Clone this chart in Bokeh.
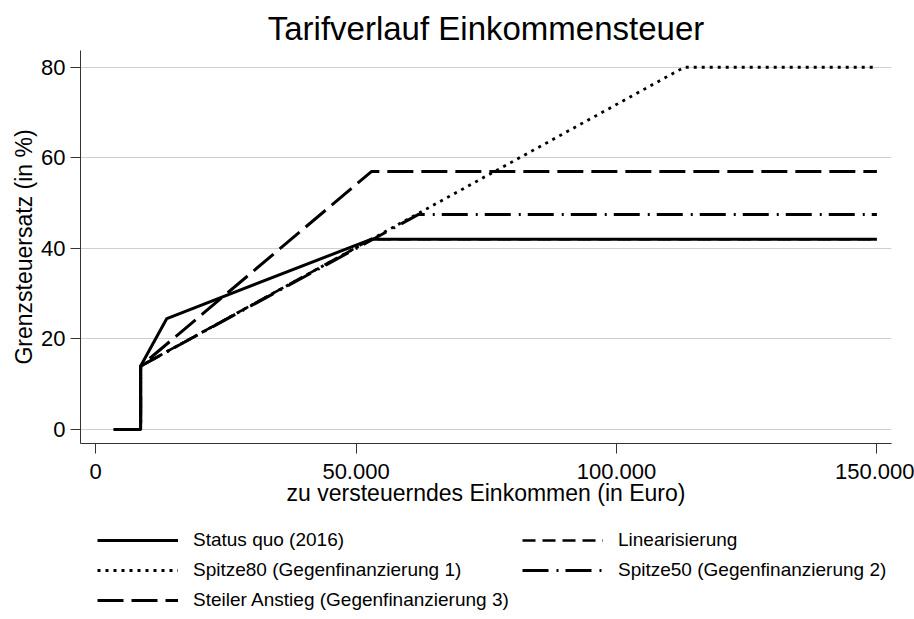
from bokeh.plotting import figure
from bokeh.models import Range1d, FixedTicker, Legend, LegendItem
from bokeh.layouts import column
from bokeh.embed import file_html
from bokeh.resources import INLINE

# ---- data ----
status_x = [3500, 8652, 8652, 13669, 52881, 150000]
status_y = [0, 0, 14, 24.5, 42, 42]

linear_x = [3500, 8652, 8652, 52881, 150000]
linear_y = [0, 0, 14, 42, 42]

spitze80_x = [3500, 8652, 8652, 113000, 150000]
spitze80_y = [0, 0, 14, 80, 80]

spitze50_x = [3500, 8652, 8652, 62000, 150000]
spitze50_y = [0, 0, 14, 47.5, 47.5]

steil_x = [3500, 8652, 8652, 53000, 150000]
steil_y = [0, 0, 14, 57, 57]

x_ticks = [0, 50000, 100000, 150000]
x_tick_labels = ["0", "50.000", "100.000", "150.000"]
y_ticks = [0, 20, 40, 60, 80]

series_labels = ["Status quo (2016)", "Linearisierung", "Spitze80 (Gegenfinanzierung 1)",
                 "Spitze50 (Gegenfinanzierung 2)", "Steiler Anstieg (Gegenfinanzierung 3)"]

FONT = "Liberation Sans"

styles = [
    dict(line_color="black", line_width=3),
    dict(line_color="black", line_width=2.6, line_dash="13 7"),
    dict(line_color="black", line_width=2.8, line_dash="3 5"),
    dict(line_color="black", line_width=3, line_dash="26 8 2 7"),
    dict(line_color="black", line_width=3, line_dash="26 8"),
]
series = [(status_x, status_y), (linear_x, linear_y), (spitze80_x, spitze80_y),
          (spitze50_x, spitze50_y), (steil_x, steil_y)]

p = figure(width=914, height=519, output_backend="svg", toolbar_location=None,
           x_range=Range1d(-2900, 152800), y_range=Range1d(-3.1, 83.7),
           min_border_left=80, min_border_right=23, min_border_top=50,
           min_border_bottom=76,
           title="Tarifverlauf Einkommensteuer")

p.title.text_font = FONT
p.title.text_font_size = "33px"
p.title.text_font_style = "normal"
p.title.align = "center"
p.title.standoff = 8
p.title.text_color = "black"

p.outline_line_color = None
p.xgrid.grid_line_color = None
p.ygrid.grid_line_color = "#cfcfcf"
p.ygrid.grid_line_width = 1
p.ygrid.ticker = FixedTicker(ticks=y_ticks)

for ax in (p.xaxis[0], p.yaxis[0]):
    ax.axis_line_color = "#333333"
    ax.major_tick_line_color = "#333333"
    ax.major_tick_out = 10
    ax.major_tick_in = 0
    ax.minor_tick_line_color = None
    ax.major_label_text_font = FONT
    ax.major_label_text_font_size = "22px"
    ax.major_label_text_color = "black"
    ax.axis_label_text_font = FONT
    ax.axis_label_text_font_size = "23px"
    ax.axis_label_text_font_style = "normal"
    ax.axis_label_text_color = "black"

p.xaxis.ticker = FixedTicker(ticks=x_ticks)
p.xaxis.major_label_overrides = dict(zip(x_ticks, x_tick_labels))
p.xaxis.axis_label = "zu versteuerndes Einkommen (in Euro)"
p.xaxis.major_label_standoff = 10
p.xaxis.axis_label_standoff = -2

p.yaxis.ticker = FixedTicker(ticks=y_ticks)
p.yaxis.axis_label = "Grenzsteuersatz (in %)"
p.yaxis.major_label_standoff = 5
p.yaxis.axis_label_standoff = 1
p.yaxis.major_label_orientation = "horizontal"

for (xs, ys), st in zip(series, styles):
    p.line(xs, ys, **st)

# legend panel below the chart (separate canvas so the 2-column legend is not clipped).
# Its frame is aligned with the chart's frame by the column layout; the series lines
# here fall outside its (unit) ranges, so only the legend samples are visible.
lf = figure(width=914, height=100, output_backend="svg", toolbar_location=None,
            x_range=Range1d(0, 1), y_range=Range1d(0, 1),
            x_axis_type=None, y_axis_type=None, min_border=0)
lf.outline_line_color = None
lf.grid.visible = False

items = []
for (xs, ys), lab, st in zip(series, series_labels, styles):
    r = lf.line(xs, ys, **st)
    items.append(LegendItem(label=lab, renderers=[r]))

legend = Legend(items=items, orientation="horizontal", ncols=2, location=(17, 8))
legend.label_text_font = FONT
legend.label_text_font_size = "19px"
legend.label_text_color = "black"
legend.glyph_width = 81
legend.glyph_height = 20
legend.label_height = 20
legend.label_width = 321
legend.label_standoff = 15
legend.spacing = 8
legend.padding = 0
legend.margin = 0
legend.border_line_color = None
legend.background_fill_alpha = 0
lf.add_layout(legend, "center")

layout = column(p, lf)
open("out.html", "w").write(file_html(layout, INLINE))
